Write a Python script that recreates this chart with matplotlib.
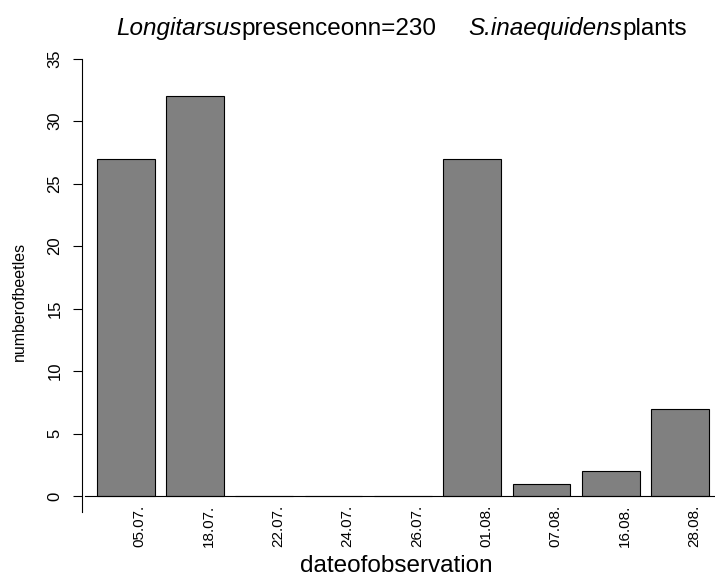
import numpy as np
import matplotlib
matplotlib.use("Agg")
from matplotlib import pyplot as plt
from matplotlib.transforms import ScaledTranslation

dates = ["05.07.", "18.07.", "22.07.", "24.07.", "26.07.", "01.08.", "07.08.", "16.08.", "28.08."]
beetles = [27, 32, 0, 0, 0, 27, 1, 2, 7]
yticks = [0, 5, 10, 15, 20, 25, 30, 35]
title_parts = [("Longitarsus", "italic", 0), ("presenceonn=230", "normal", 0),
               ("S.inaequidens", "italic", 32), ("plants", "normal", 0)]

plt.rcParams['font.family'] = ['Liberation Sans', 'DejaVu Sans']

W, H = 715, 576
fig = plt.figure(figsize=(W / 100, H / 100), dpi=100)
# axes box in pixels: left 82, right 715, top 50, bottom 512
ax = fig.add_axes([82 / W, (H - 512) / H, 633 / W, 462 / H])

x = np.arange(len(dates))
ax.bar(x, beetles, width=0.833, color="#808080", edgecolor="black", linewidth=0.8)
ax.axhline(0, xmin=3 / 633, xmax=1, color="black", linewidth=0.8)

ax.set_xlim((82 - 125.7) / 69.3, (715 - 125.7) / 69.3)
ax.set_ylim((496 - 512) / 12.5, (496 - 50) / 12.5)

for s in ["top", "right", "bottom"]:
    ax.spines[s].set_visible(False)
ax.spines["left"].set_bounds((496 - 511.7) / 12.5, 35)
ax.spines["left"].set_linewidth(0.8)

ax.set_yticks(yticks)
ax.set_yticklabels([str(v) for v in yticks], rotation=90, va="center", fontsize=12)
ax.tick_params(axis="y", length=6.5, width=0.8, pad=7.5)

ax.set_xticks(x)
ax.set_xticklabels(dates, rotation=90, fontsize=11, va="top", ha="center")
ax.tick_params(axis="x", length=0, pad=0)
off = ScaledTranslation(14 / 100, 7 / 100, fig.dpi_scale_trans)
for lab in ax.get_xticklabels():
    lab.set_transform(lab.get_transform() + off)

# title built from pieces, chained left to right
prev = fig.text(116 / W, 1 - 40 / H, title_parts[0][0], fontstyle=title_parts[0][1],
                ha="left", va="bottom", fontsize=17.5)
for txt, style, gap in title_parts[1:]:
    prev = ax.annotate(txt, xy=(1, 0), xycoords=prev, xytext=(gap * 0.72, 0),
                       textcoords="offset points", ha="left", va="bottom",
                       fontsize=17.5, fontstyle=style, annotation_clip=False)

fig.text(396.5 / W, 1 - 572 / H, "dateofobservation", ha="center", va="baseline", fontsize=17.5)
fig.text(19 / W, 1 - 301 / H, "numberofbeetles", ha="center", va="center",
         rotation=90, fontsize=11.5)

fig.savefig("out.png", dpi=100)
